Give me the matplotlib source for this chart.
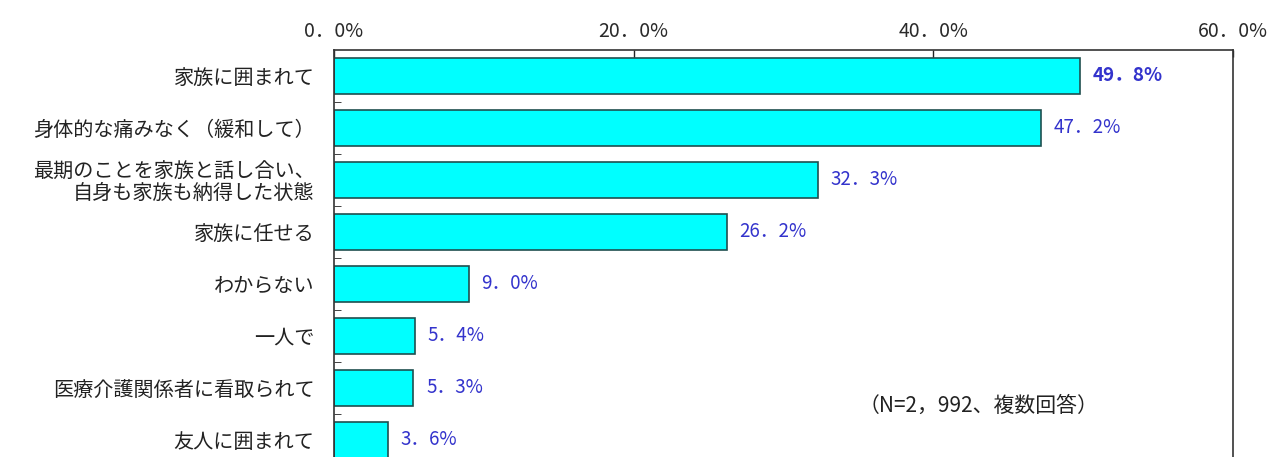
import matplotlib.pyplot as plt
import numpy as np

plt.rcParams['font.family'] = ['Noto Sans CJK JP', 'DejaVu Sans']

categories = [
    "家族に囲まれて",
    "身体的な痛みなく（緩和して）",
    "最期のことを家族と話し合い、\n自身も家族も納得した状態",
    "家族に任せる",
    "わからない",
    "一人で",
    "医療介護関係者に看取られて",
    "友人に囲まれて",
]
values = [49.8, 47.2, 32.3, 26.2, 9.0, 5.4, 5.3, 3.6]
xticks = [0, 20, 40, 60]
xtick_labels = ["0．0%", "20．0%", "40．0%", "60．0%"]
note = "（N=2，992、複数回答）"

fig = plt.figure(figsize=(12.83, 4.57), dpi=100)
# plot box runs past the bottom edge, last row is cut off
ax = fig.add_axes([334 / 1283, 1 - 466 / 457, 899 / 1283, 416 / 457])

y = np.arange(len(categories))
ax.barh(y, values, height=0.69, color="#00FFFF", edgecolor="#1f4f4f", linewidth=1.2)

for i, v in enumerate(values):
    txt = f"{v:.1f}".replace(".", "．") + "%"
    ax.text(v + 0.85, i, txt, va="center", ha="left", fontsize=13.5,
            color="#3333CC", fontweight="bold" if i == 0 else "normal")

ax.set_xlim(0, 60)
ax.set_ylim(len(categories) - 0.5, -0.5)

ax.xaxis.tick_top()
ax.set_xticks(xticks)
ax.set_xticklabels(xtick_labels, fontsize=14, color="#2a2a2a")
ax.tick_params(axis="x", direction="in", length=5, pad=6, width=1, color="#222222")

ax.set_yticks(y)
ax.set_yticklabels(categories, fontsize=14.5, color="#222222", ha="right",
                   linespacing=1.05)
ax.tick_params(axis="y", which="major", length=0, pad=14)
ax.set_yticks(np.arange(len(categories)) + 0.5, minor=True)
ax.tick_params(axis="y", which="minor", direction="in", length=5, color="#222222")

for s in ax.spines.values():
    s.set_color("#333333")
    s.set_linewidth(1.2)

ax.text(35.0, 6.35, note, fontsize=15, color="#222222", va="center", ha="left")

fig.savefig("out.png", dpi=100)
